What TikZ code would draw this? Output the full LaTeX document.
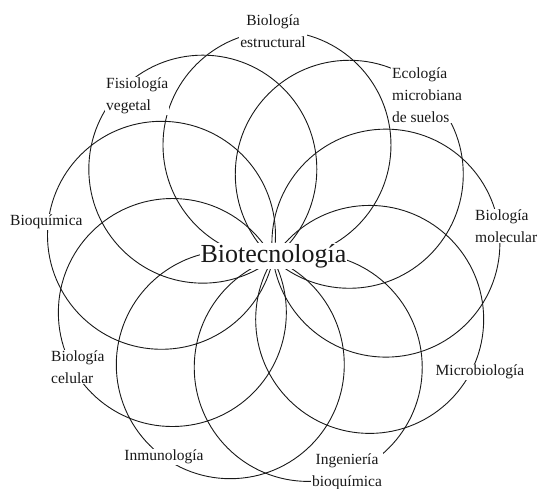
\documentclass[tikz,border=0pt]{standalone}
\usepackage{fontspec}
\setmainfont{Liberation Serif}
\usetikzlibrary{calc}
\tikzset{
  ring/.style={draw=black!90, line width=0.9pt},
  lbl/.style={fill=white, inner sep=1pt, font=\fontsize{15.5}{22}\selectfont, text=black!90},
  lblL/.style={lbl, align=left, anchor=west},
  lblC/.style={lbl, align=center},
  hub/.style={fill=white, inner sep=1pt, font=\fontsize{26}{30}\selectfont, text=black!90}
}
\begin{document}
\begin{tikzpicture}[x=1pt,y=-1pt]
\useasboundingbox (0,0) rectangle (539,489);
\coordinate (C) at (273,259);
\foreach \k in {0,...,8}{
  \pgfmathsetmacro{\a}{88-40*\k}
  \draw[ring] ($(C)+({114*cos(\a)},{-114*sin(\a)})$) circle[radius=114pt];
}
\node[hub] (bt) at (273.5,256) {Biotecnología};
\node[lblC] (be) at (273,31) {Biología\\estructural};
\node[lblL] (fv) at (105,96) {Fisiología\\vegetal};
\node[lblL] (em) at (391,95) {Ecología\\microbiana\\de suelos};
\node[lblL] (bm) at (474,226) {Biología\\molecular};
\node[lblL] (bq) at (9,222) {Bioquímica};
\node[lblL] (bc) at (50,367) {Biología\\celular};
\node[lblC] (in) at (164,457) {Inmunología};
\node[lblC] (mb) at (480,372) {Microbiología};
\node[lblC] (ib) at (347,472) {Ingeniería\\bioquímica};
\end{tikzpicture}
\end{document}
